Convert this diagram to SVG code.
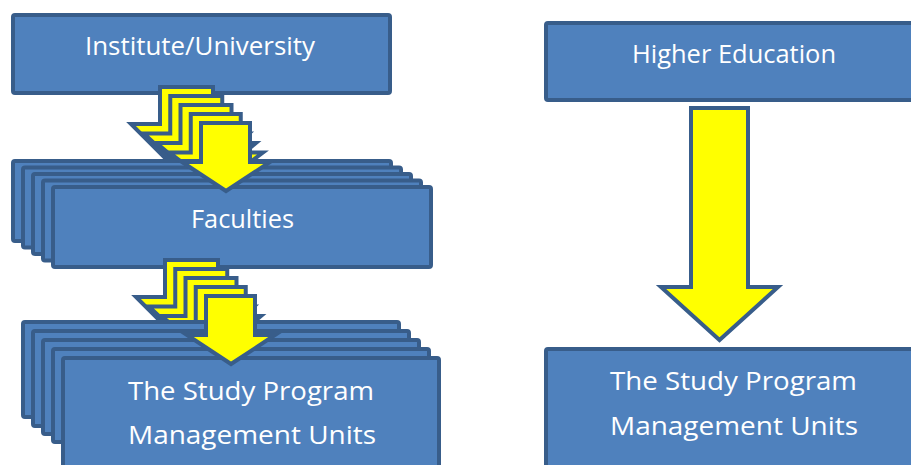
<svg xmlns="http://www.w3.org/2000/svg" width="911" height="465" viewBox="0 0 911 465">
<style>
.box{fill:#4F81BD;stroke:#385D8A;stroke-width:4}
.arrow{fill:#FFFF00;stroke:#385D8A;stroke-width:4;stroke-linejoin:miter}
.lbl{font-family:"Open Sans","Liberation Sans",sans-serif;font-size:26px;fill:#FFFFFF;text-anchor:middle}
</style>
<defs>
<path id="a0" d="M160,87 H213 V124 H242 L186.5,179.5 L131,124 H160 Z"/>
<path id="a1" d="M170.25,96 H222.25 V133.5 H249 L196.4,182.4 L143.75,133.5 H170.25 Z"/>
<path id="a2" d="M180.5,105 H231.5 V143 H256 L206.25,185.25 L156.5,143 H180.5 Z"/>
<path id="a3" d="M190.75,114 H240.75 V152.5 H263 L216.1,188.1 L169.25,152.5 H190.75 Z"/>
<path id="a4" d="M201,123 H250 V162 H270 L226,191 L182,162 H201 Z"/>
</defs>
<rect width="911" height="465" fill="#FFFFFF"/>

<g id="institute">
<rect class="box" x="13" y="15" width="377" height="78" rx="2"/>
<text class="lbl" x="200" y="55" textLength="230" lengthAdjust="spacingAndGlyphs">Institute/University</text>
</g>

<g id="higher-education">
<rect class="box" x="546" y="23" width="380" height="77" rx="2"/>
<text class="lbl" x="734" y="63" textLength="204" lengthAdjust="spacingAndGlyphs">Higher Education</text>
</g>

<g id="units-right">
<rect class="box" x="546" y="349" width="380" height="130" rx="2"/>
<text class="lbl" x="733.5" y="390" textLength="247" lengthAdjust="spacingAndGlyphs">The Study Program</text>
<text class="lbl" x="734" y="435" textLength="248" lengthAdjust="spacingAndGlyphs">Management Units</text>
</g>

<g id="connectors-right" class="connectors">
<path class="arrow" d="M691,108 H748 V287 H778 L719.5,340 L661,287 H691 Z"/>
</g>

<g id="connectors-1-back" class="connectors">
<use href="#a0" class="arrow"/>
<use href="#a1" class="arrow"/>
<use href="#a2" class="arrow"/>
<use href="#a3" class="arrow"/>
</g>

<g id="faculties">
<rect class="box" x="13" y="161" width="378" height="80" rx="2"/>
<rect class="box" x="23" y="167.5" width="378" height="80" rx="2"/>
<rect class="box" x="33" y="174" width="378" height="80" rx="2"/>
<rect class="box" x="43" y="180.5" width="378" height="80" rx="2"/>
<rect class="box" x="53" y="187" width="378" height="80" rx="2"/>
<text class="lbl" x="242.5" y="228" textLength="103" lengthAdjust="spacingAndGlyphs">Faculties</text>
</g>

<g id="connectors-1-front" class="connectors">
<use href="#a4" class="arrow"/>
</g>

<g id="connectors-2-back" class="connectors" transform="translate(5,173)">
<use href="#a0" class="arrow"/>
<use href="#a1" class="arrow"/>
<use href="#a2" class="arrow"/>
<use href="#a3" class="arrow"/>
</g>

<g id="units-left">
<rect class="box" x="23" y="322" width="376" height="95" rx="2"/>
<rect class="box" x="33" y="331" width="376" height="95" rx="2"/>
<rect class="box" x="43" y="340" width="376" height="94" rx="2"/>
<rect class="box" x="53" y="349" width="376" height="93" rx="2"/>
<rect class="box" x="63" y="358" width="376" height="130" rx="2"/>
<text class="lbl" x="251" y="400" textLength="246" lengthAdjust="spacingAndGlyphs">The Study Program</text>
<text class="lbl" x="252" y="444" textLength="248" lengthAdjust="spacingAndGlyphs">Management Units</text>
</g>

<g id="connectors-2-front" class="connectors" transform="translate(5,173)">
<use href="#a4" class="arrow"/>
</g>
</svg>
